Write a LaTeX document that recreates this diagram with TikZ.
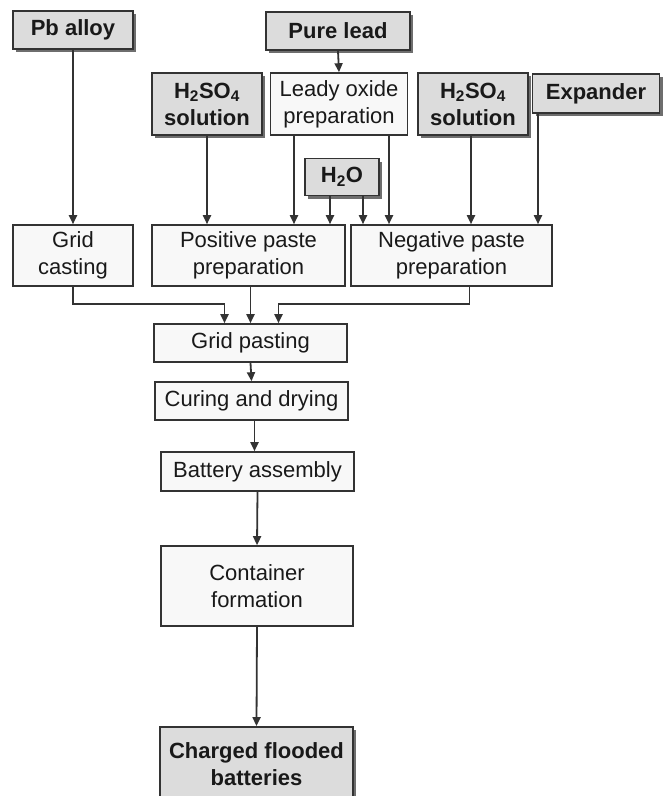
\documentclass[tikz,border=0pt]{standalone}
\usepackage{fontspec}
\setmainfont{Liberation Sans}
\usetikzlibrary{arrows.meta,shadows}
\definecolor{edge}{HTML}{333333}
\definecolor{boxgray}{HTML}{DCDCDC}
\definecolor{boxwhite}{HTML}{F8F8F8}
\definecolor{shade}{HTML}{6E6E6E}
\begin{document}
\begin{tikzpicture}[x=1pt, y=-1pt, font=\fontsize{22}{27}\selectfont, text=black!90]
    \tikzstyle{feed} = [draw=edge, line width=1.8pt, fill=boxgray, align=center, inner sep=0pt,
                        font=\fontsize{22}{27}\selectfont\bfseries,
                        drop shadow={shadow xshift=3pt, shadow yshift=-3pt, fill=shade, opacity=1}]
    \tikzstyle{proc} = [draw=edge, line width=1.6pt, fill=boxwhite, align=center, inner sep=0pt]
    \tikzstyle{flow} = [draw=edge, line width=1.8pt, -{Triangle[width=8pt,length=9pt]}]
    \useasboundingbox (0,0) rectangle (663,796);

    % raw materials
    \node[feed, minimum width=120pt, minimum height=38pt] (pb)   at (73,30)    {Pb alloy};
    \node[feed, minimum width=144pt, minimum height=38pt] (pure) at (338,31)   {Pure lead};
    \node[feed, minimum width=110pt, minimum height=62pt] (hl)   at (207,104)  {H\textsubscript{2}SO\textsubscript{4}\\solution};
    \node[proc, minimum width=137pt, minimum height=62pt] (lo)   at (339,104)  {Leady oxide\\preparation};
    \node[feed, minimum width=110pt, minimum height=62pt] (hr)   at (473,104)  {H\textsubscript{2}SO\textsubscript{4}\\solution};
    \node[feed, minimum width=127pt, minimum height=39pt] (ex)   at (596,93.5) {Expander};
    \node[feed, minimum width=74pt,  minimum height=37pt] (h2o)  at (342,177)  {H\textsubscript{2}O};

    % processing steps
    \node[proc, minimum width=120pt, minimum height=61pt] (cast)  at (73,255.5)  {Grid\\casting};
    \node[proc, minimum width=193pt, minimum height=61pt] (pos)   at (248.5,255.5) {Positive paste\\preparation};
    \node[proc, minimum width=201pt, minimum height=61pt] (neg)   at (451.5,255.5) {Negative paste\\preparation};
    \node[proc, minimum width=193pt, minimum height=38pt] (paste) at (250.5,343) {Grid pasting};
    \node[proc, minimum width=193pt, minimum height=38pt] (cure)  at (251.5,401) {Curing and drying};
    \node[proc, minimum width=193pt, minimum height=39pt] (asm)   at (257.5,471.5) {Battery assembly};
    \node[proc, minimum width=192pt, minimum height=80pt] (form)  at (257,586) {Container\\formation};
    \node[feed, minimum width=193pt, minimum height=74pt] (out)   at (256.5,764) {Charged flooded\\batteries};

    % feeds into the first row
    \draw[flow] (pb.south) -- (cast.north);
    \draw[flow] (pure.south) -- (lo.north);
    \foreach \src/\dx/\dst in {hl/0/pos, lo/-45/pos, h2o/-12/pos, h2o/21/neg, lo/50/neg, hr/-2/neg, ex/-58/neg}
    {
        \coordinate (s) at ([xshift=\dx]\src.south);
        \draw[flow] (s) -- (s |- \dst.north);
    }

    % merge into grid pasting
    \draw[flow] (cast.south) -- ++(0,17) -| ([xshift=-26]paste.north);
    \draw[flow] (paste.north |- pos.south) -- (paste.north);
    \draw[flow] ([xshift=18]neg.south) -- ++(0,17) -| ([xshift=28]paste.north);

    % main line
    \draw[flow] (paste.south) -- (cure.north);
    \draw[flow] ([xshift=-3]asm.north |- cure.south) -- ([xshift=-3]asm.north);
    \draw[flow] (asm.south) -- (form.north);
    \draw[flow] (form.south) -- (out.north);
\end{tikzpicture}
\end{document}
